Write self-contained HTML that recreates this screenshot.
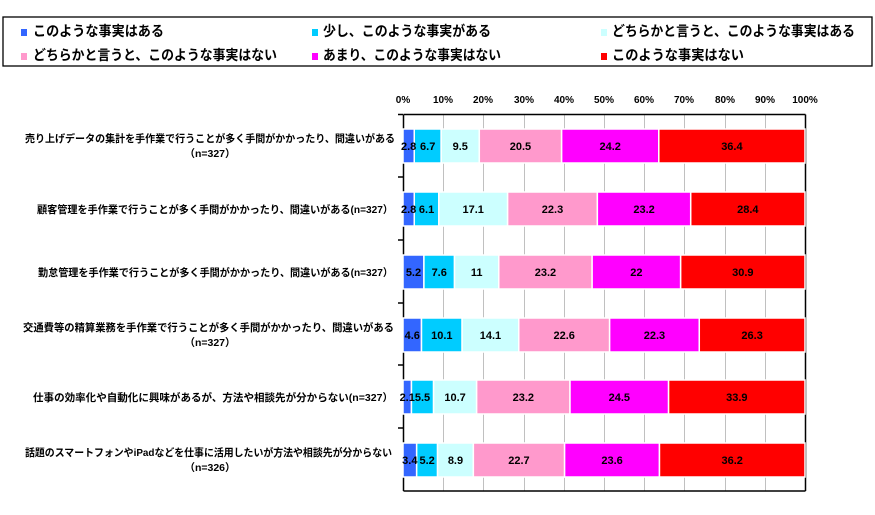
<!DOCTYPE html>
<html><head><meta charset="utf-8"><style>
body{margin:0;background:#fff;}
svg text{font-family:"Liberation Sans","Noto Sans CJK JP",sans-serif;font-weight:bold;}
</style></head><body>
<svg width="875" height="510" xmlns="http://www.w3.org/2000/svg">
<rect x="3" y="17" width="869" height="49" fill="#fff" stroke="#000" stroke-width="1.3"/>
<g font-size="14">
<rect x="21" y="29" width="6" height="7" fill="#3366ff"/><text x="33" y="36" textLength="131" lengthAdjust="spacingAndGlyphs">このような事実はある</text>
<rect x="312" y="29" width="6" height="7" fill="#00ccff"/><text x="323" y="36" textLength="168" lengthAdjust="spacingAndGlyphs">少し、このような事実がある</text>
<rect x="601" y="29" width="6" height="7" fill="#ccffff"/><text x="612" y="36" textLength="243" lengthAdjust="spacingAndGlyphs">どちらかと言うと、このような事実はある</text>
<rect x="21" y="53" width="6" height="7" fill="#ff99cc"/><text x="33" y="60" textLength="244" lengthAdjust="spacingAndGlyphs">どちらかと言うと、このような事実はない</text>
<rect x="312" y="53" width="6" height="7" fill="#ff00ff"/><text x="323" y="60" textLength="178" lengthAdjust="spacingAndGlyphs">あまり、このような事実はない</text>
<rect x="601" y="53" width="6" height="7" fill="#ff0000"/><text x="612" y="60" textLength="132" lengthAdjust="spacingAndGlyphs">このような事実はない</text>
</g>
<g font-size="10" text-anchor="middle" font-weight="normal">
<text x="403" y="103">0%</text><text x="443" y="103">10%</text><text x="483" y="103">20%</text><text x="524" y="103">30%</text><text x="564" y="103">40%</text><text x="604" y="103">50%</text><text x="644" y="103">60%</text><text x="684" y="103">70%</text><text x="725" y="103">80%</text><text x="765" y="103">90%</text><text x="805" y="103">100%</text>
</g>
<g stroke="#c0c0c0" stroke-width="1">
<line x1="443.5" y1="115" x2="443.5" y2="491"/><line x1="483.5" y1="115" x2="483.5" y2="491"/><line x1="524.5" y1="115" x2="524.5" y2="491"/><line x1="564.5" y1="115" x2="564.5" y2="491"/><line x1="604.5" y1="115" x2="604.5" y2="491"/><line x1="644.5" y1="115" x2="644.5" y2="491"/><line x1="684.5" y1="115" x2="684.5" y2="491"/><line x1="725.5" y1="115" x2="725.5" y2="491"/><line x1="765.5" y1="115" x2="765.5" y2="491"/>
</g>
<g stroke="#000" stroke-width="1.5" fill="none">
<line x1="403.5" y1="114.5" x2="805.5" y2="114.5"/>
<line x1="403.5" y1="114.5" x2="403.5" y2="491"/>
<line x1="403.5" y1="491" x2="805.5" y2="491"/>
<line x1="805.5" y1="114.5" x2="805.5" y2="491"/>
<line x1="398" y1="114.5" x2="403" y2="114.5"/><line x1="398" y1="177" x2="403" y2="177"/><line x1="398" y1="240" x2="403" y2="240"/><line x1="398" y1="303" x2="403" y2="303"/><line x1="398" y1="365" x2="403" y2="365"/><line x1="398" y1="428" x2="403" y2="428"/>
</g>
<g id="bars" stroke="#fff" stroke-width="1.5"></g>
<g id="vals" font-size="11" text-anchor="middle" font-weight="normal"></g>
<g font-size="10.5">
<text x="25" y="142" textLength="370" lengthAdjust="spacingAndGlyphs">売り上げデータの集計を手作業で行うことが多く手間がかかったり、間違いがある</text><text x="210" y="157" font-weight="normal" text-anchor="middle">（n=327）</text>
<text x="37" y="213" textLength="356" lengthAdjust="spacingAndGlyphs">顧客管理を手作業で行うことが多く手間がかかったり、間違いがある(n=327）</text>
<text x="38" y="276" textLength="355" lengthAdjust="spacingAndGlyphs">勤怠管理を手作業で行うことが多く手間がかかったり、間違いがある(n=327）</text>
<text x="23" y="331" textLength="371" lengthAdjust="spacingAndGlyphs">交通費等の精算業務を手作業で行うことが多く手間がかかったり、間違いがある</text><text x="210" y="346" font-weight="normal" text-anchor="middle">（n=327）</text>
<text x="33" y="401" textLength="360" lengthAdjust="spacingAndGlyphs">仕事の効率化や自動化に興味があるが、方法や相談先が分からない(n=327）</text>
<text x="25" y="456" textLength="367" lengthAdjust="spacingAndGlyphs">話題のスマートフォンやiPadなどを仕事に活用したいが方法や相談先が分からない</text><text x="210" y="471" font-weight="normal" text-anchor="middle">（n=326）</text>
</g>
</svg>
<script>
var d=[[2.8,6.7,9.5,20.5,24.2,36.4],[2.8,6.1,17.1,22.3,23.2,28.4],[5.2,7.6,11,23.2,22,30.9],[4.6,10.1,14.1,22.6,22.3,26.3],[2.1,5.5,10.7,23.2,24.5,33.9],[3.4,5.2,8.9,22.7,23.6,36.2]];
var c=["#3366ff","#00ccff","#ccffff","#ff99cc","#ff00ff","#ff0000"];
var tops=[129,192,255,318,380,443],ns="http://www.w3.org/2000/svg";
var B=document.getElementById("bars"),V=document.getElementById("vals");
d.forEach(function(r,i){var s=r.reduce(function(a,b){return a+b},0),x=403;
r.forEach(function(v,j){var w=v/s*402;var e=document.createElementNS(ns,"rect");
e.setAttribute("x",x);e.setAttribute("y",tops[i]);e.setAttribute("width",w);e.setAttribute("height",34);e.setAttribute("fill",c[j]);B.appendChild(e);
var t=document.createElementNS(ns,"text");t.setAttribute("x",x+w/2);t.setAttribute("y",tops[i]+21);t.textContent=v;V.appendChild(t);x+=w;});});
</script>
</body></html>
